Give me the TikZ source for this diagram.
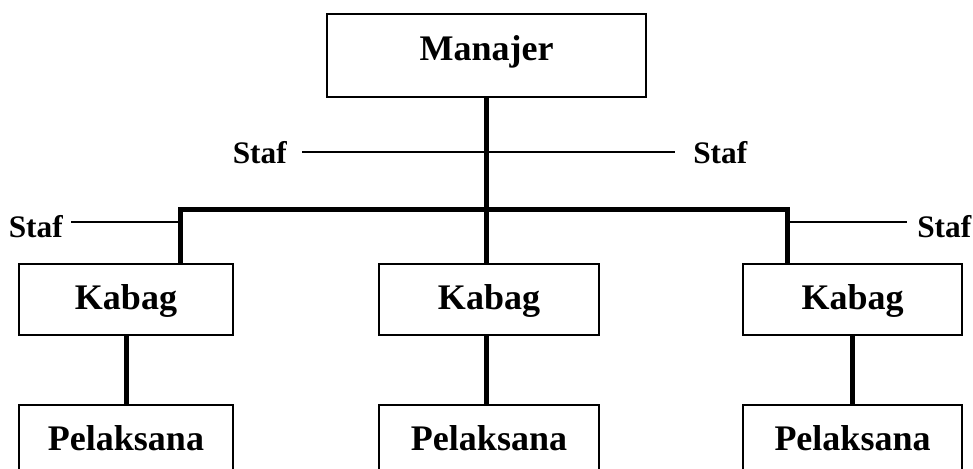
\documentclass[tikz,border=0pt]{standalone}
\usepackage{fontspec}
\setmainfont{Liberation Serif}
\begin{document}
\begin{tikzpicture}[x=0.75pt,y=-0.75pt,
  box/.style={draw,line width=1pt,inner sep=0pt,minimum height=53.25pt,
    text height=14.25pt,text depth=0pt,
    font=\fontsize{27}{30}\selectfont\bfseries},
  staflabel/.style={inner ysep=0pt,font=\fontsize{23.5}{26}\selectfont\bfseries},
  heavy/.style={line width=3.75pt,line join=miter,line cap=butt},
  light/.style={line width=1.4pt}]
\clip (0,0) rectangle (973,468);
\fill[white] (0,0) rectangle (973,468);

% top of the chart
\node[box,minimum width=239.25pt,minimum height=62.25pt,text height=6.75pt]
  (M) at (486.5,55.5) {Manajer};

% department heads
\node[box,minimum width=160.5pt] (K1) at (126,299.5) {Kabag};
\node[box,minimum width=165pt]   (K2) at (489,299.5) {Kabag};
\node[box,minimum width=164.25pt](K3) at (852.5,299.5) {Kabag};

% staff under each head
\node[box,minimum width=160.5pt] (P1) at (126,440.5) {Pelaksana};
\node[box,minimum width=165pt]   (P2) at (489,440.5) {Pelaksana};
\node[box,minimum width=164.25pt](P3) at (852.5,440.5) {Pelaksana};

% staff positions
\node[staflabel,anchor=base east,inner xsep=11.25pt] (S1) at (302,163) {Staf};
\node[staflabel,anchor=base west,inner xsep=13.5pt]  (S2) at (675,163) {Staf};
\node[staflabel,anchor=base east,inner xsep=6pt]     (S3) at (71,237) {Staf};
\node[staflabel,anchor=base west,inner xsep=7.5pt]   (S4) at (907,237) {Staf};

% junction points of the distribution bar
\coordinate (hub) at (486.5,152);
\coordinate (busL) at (180,209);
\coordinate (busR) at (787,209);
\coordinate (jL) at (180,222);
\coordinate (jR) at (787,222);

% line of command
\draw[heavy] (M.south) -- (M.south |- K2.north);
\draw[heavy] (busL |- K1.north) -- (busL) -- (busR) -- (busR |- K3.north);
\draw[heavy] (K1.south) -- (P1.north);
\draw[heavy] (M.south |- K2.south) -- (M.south |- P2.north);
\draw[heavy] (K3.south) -- (P3.north);

% staff lines
\draw[light] (hub -| S1.east) -- (hub -| S2.west);
\draw[light] (jL -| S3.east) -- (jL);
\draw[light] (jR) -- (jR -| S4.west);
\end{tikzpicture}
\end{document}
